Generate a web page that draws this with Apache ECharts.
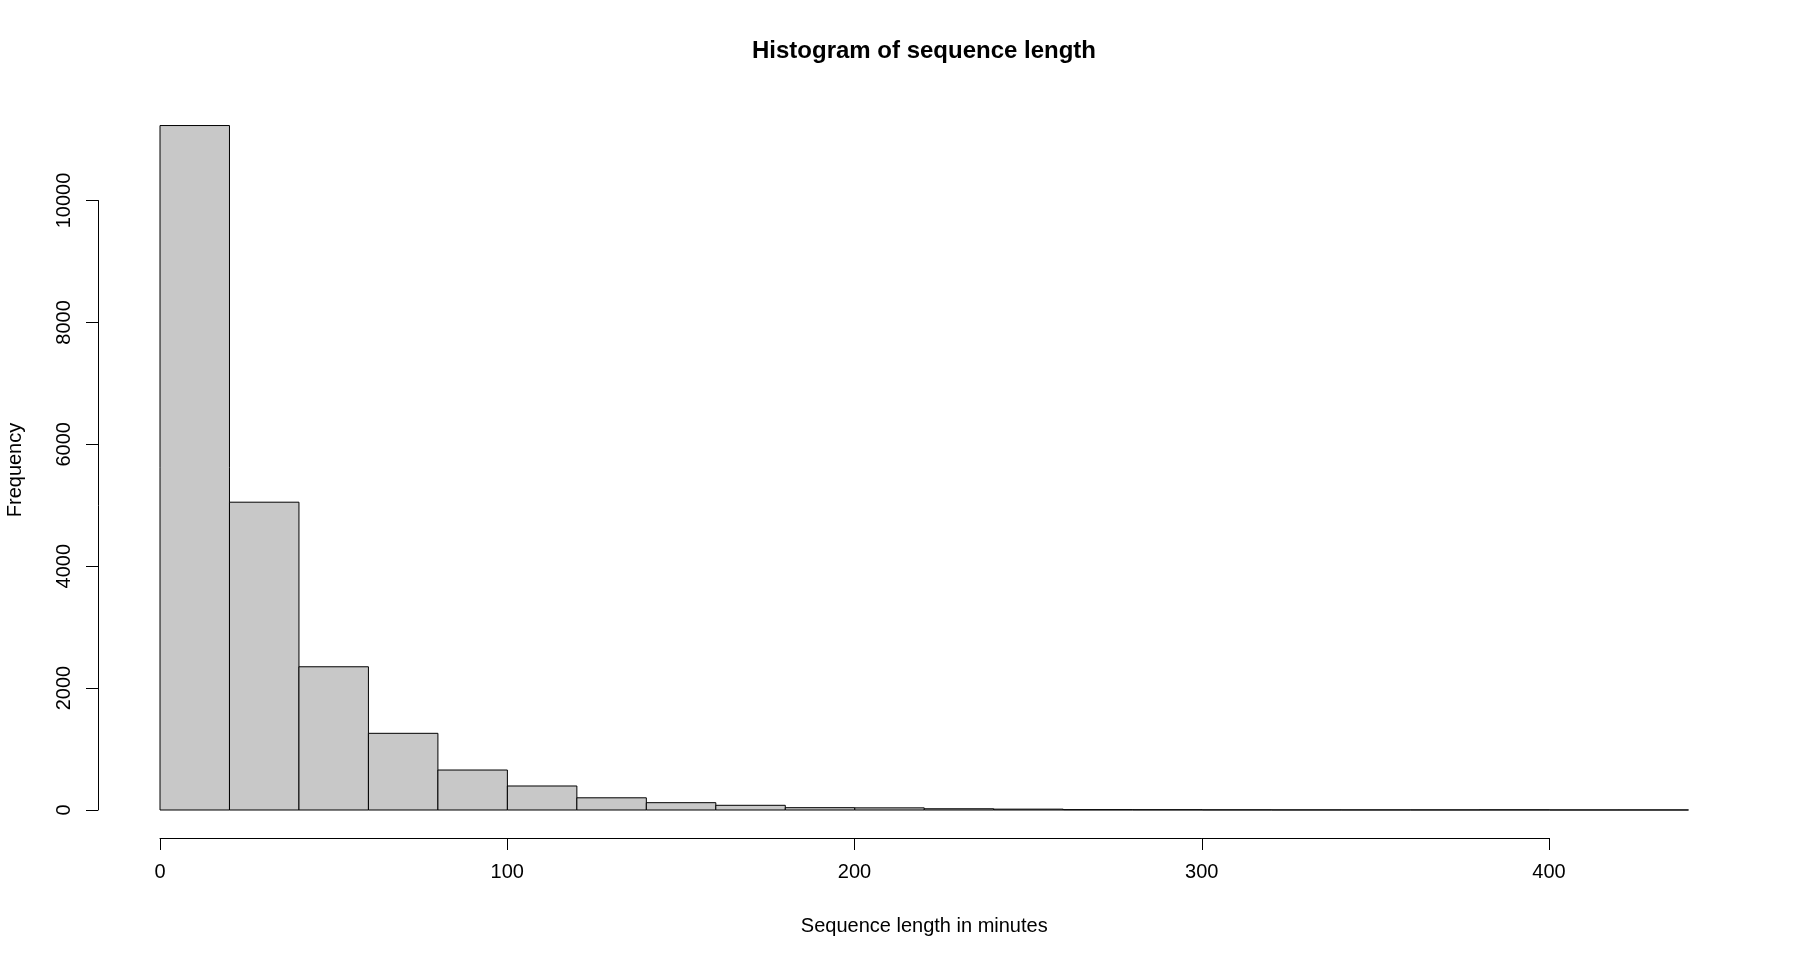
<!DOCTYPE html>
<html>
<head>
<meta charset="utf-8">
<title>Histogram of sequence length</title>
<script src="https://cdn.jsdelivr.net/npm/echarts@6/dist/echarts.min.js"></script>
<style>
  html, body { margin: 0; padding: 0; background: #fff; }
  #chart { width: 1800px; height: 960px; }
</style>
</head>
<body>
<div id="chart"></div>
<script>
// histogram bins (minutes), 20 wide each
var binStarts = [0, 20, 40, 60, 80, 100, 120, 140, 160, 180, 200, 220, 240, 260, 280, 300, 320, 340, 360, 380, 400, 420];
var binWidth = 20;
var counts = [11230, 5050, 2350, 1258, 656, 394, 200, 120, 77, 38, 35, 20, 14, 6, 5, 3, 2, 2, 2, 3, 1, 1];
var xTicks = [0, 100, 200, 300, 400];
var yTicks = [0, 2000, 4000, 6000, 8000, 10000];

var font = '"Liberation Sans", Arial, Helvetica, sans-serif';

var histData = [];
for (var i = 0; i < binStarts.length; i++) {
    histData.push([binStarts[i], binStarts[i] + binWidth, counts[i]]);
}

// draws one bin as a rect through the axis scales
function renderBin(params, api) {
    var p0 = api.coord([api.value(0), 0]);
    var p1 = api.coord([api.value(1), api.value(2)]);
    return {
        type: 'rect',
        shape: { x: p0[0], y: p1[1], width: p1[0] - p0[0], height: p0[1] - p1[1] },
        style: { fill: '#c8c8c8', stroke: '#000', lineWidth: 1 }
    };
}

// plain numbers, no thousands separator (like R)
function plain(v) {
    return String(v);
}

var chart = echarts.init(document.getElementById('chart'));
var option = {
    animation: false,
    backgroundColor: '#fff',
    title: {
        text: 'Histogram of sequence length',
        left: 924,
        top: 39,
        padding: 0,
        textAlign: 'center',
        textStyle: { fontFamily: font, fontSize: 24, fontWeight: 'bold', color: '#000' }
    },
    grid: [
        // bars
        { left: 160, right: 111.5, top: 78.6, bottom: 150 },
        // detached y axis (0..10000)
        { left: 98, width: 10, top: 200.5, bottom: 150 },
        // detached x axis (0..400)
        { left: 160, width: 1389, top: 837, bottom: 122 }
    ],
    xAxis: [
        {
            gridIndex: 0, type: 'value', min: 0, max: 440,
            name: 'Sequence length in minutes',
            nameLocation: 'middle', nameGap: 106,
            nameTextStyle: { fontFamily: font, fontSize: 20, color: '#000' },
            axisLine: { show: false }, axisTick: { show: false },
            axisLabel: { show: false }, splitLine: { show: false }
        },
        {
            gridIndex: 1, type: 'value', show: false, min: 0, max: 1
        },
        {
            gridIndex: 2, type: 'value', min: 0, max: 400, interval: 100,
            axisLine: { show: true, lineStyle: { color: '#000', width: 1 } },
            axisTick: { show: true, length: 12, lineStyle: { color: '#000', width: 1 } },
            axisLabel: {
                show: true, margin: 24, fontFamily: font, fontSize: 20, color: '#000',
                customValues: xTicks, formatter: plain
            },
            splitLine: { show: false }
        }
    ],
    yAxis: [
        {
            gridIndex: 0, type: 'value', min: 0, max: 12000,
            axisLine: { show: false }, axisTick: { show: false },
            axisLabel: { show: false }, splitLine: { show: false }
        },
        {
            gridIndex: 1, type: 'value', min: 0, max: 10000, interval: 2000,
            axisLine: { show: true, lineStyle: { color: '#000', width: 1 } },
            axisTick: { show: true, length: 12, lineStyle: { color: '#000', width: 1 } },
            axisLabel: {
                show: true, rotate: 90, margin: 24, fontFamily: font, fontSize: 20, color: '#000',
                customValues: yTicks, formatter: plain
            },
            splitLine: { show: false }
        },
        {
            gridIndex: 2, type: 'value', show: false, min: 0, max: 1
        }
    ],
    graphic: [
        {
            type: 'text',
            x: 15, y: 470,
            rotation: Math.PI / 2,
            style: {
                text: 'Frequency',
                font: '20px ' + font,
                fill: '#000',
                align: 'center',
                verticalAlign: 'middle'
            }
        }
    ],
    series: [
        {
            type: 'custom',
            xAxisIndex: 0,
            yAxisIndex: 0,
            renderItem: renderBin,
            encode: { x: [0, 1], y: 2 },
            data: histData
        }
    ]
};
chart.setOption(option);
</script>
</body>
</html>
